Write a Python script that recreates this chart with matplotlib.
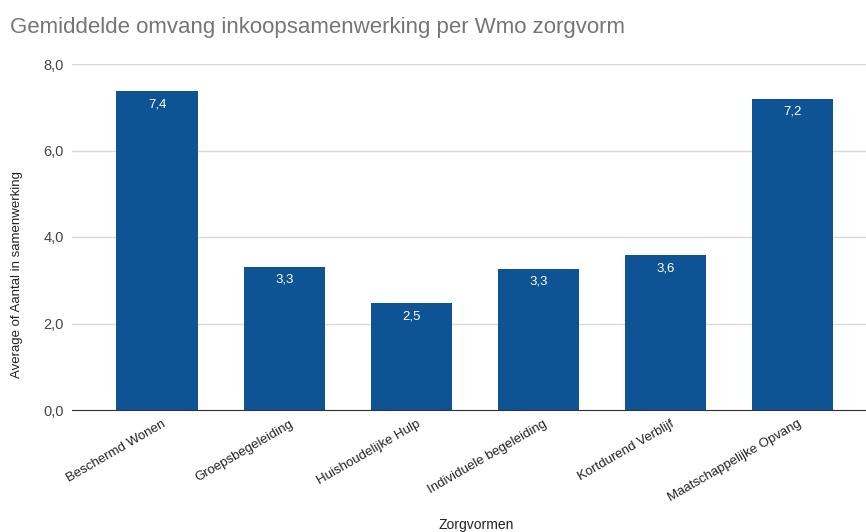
import matplotlib
matplotlib.use("Agg")
import matplotlib.pyplot as plt
from matplotlib.ticker import FuncFormatter
import matplotlib.transforms as mtransforms

categories = ["Beschermd Wonen", "Groepsbegeleiding", "Huishoudelijke Hulp",
              "Individuele begeleiding", "Kortdurend Verblijf", "Maatschappelijke Opvang"]
values = [7.37, 3.31, 2.47, 3.26, 3.58, 7.19]
yticks = [0, 2, 4, 6, 8]

plt.rcParams['font.family'] = ['Liberation Sans', 'DejaVu Sans']

W, H = 866, 532
fig = plt.figure(figsize=(W/100, H/100), dpi=100)
ax = fig.add_axes([72/W, 1-410/H, (866-72)/W, (410-64)/H])

x = list(range(len(categories)))
bars = ax.bar(x, values, width=0.64, color="#0E5394", zorder=3)
ax.set_xlim(-0.67, len(categories) - 1 + 0.58)
ax.set_ylim(0, 8)
ax.set_yticks(yticks)
ax.yaxis.set_major_formatter(FuncFormatter(lambda v, p: f"{v:.1f}".replace(".", ",")))
ax.grid(axis='y', color='#d9d9d9', linewidth=1, zorder=0)
for s in ['top', 'right', 'left']:
    ax.spines[s].set_visible(False)
ax.spines['bottom'].set_color('#333333')
ax.spines['bottom'].set_zorder(4)
ax.tick_params(axis='y', length=0, pad=6, labelsize=10.5, labelcolor='#444444')
ax.tick_params(axis='x', length=0, pad=2, labelsize=9.5, labelcolor='#222222')
ax.set_xticks(x)
ax.set_xticklabels(categories, rotation=30, ha='right', rotation_mode='anchor')
offset = mtransforms.ScaledTranslation(5/100, -5/100, fig.dpi_scale_trans)
for lbl in ax.get_xticklabels():
    lbl.set_transform(lbl.get_transform() + offset)

for b, v in zip(bars, values):
    ax.annotate(f"{v:.1f}".replace(".", ","), (b.get_x() + b.get_width()/2, v),
                xytext=(0, -5), textcoords='offset points', ha='center', va='top',
                color='white', fontsize=9.5, zorder=5)

fig.text(10/W, 1-27/H, "Gemiddelde omvang inkoopsamenwerking per Wmo zorgvorm",
         fontsize=16, color='#757575', ha='left', va='center')
fig.text(17/W, 1-274/H, "Average of Aantal in samenwerking", rotation=90,
         fontsize=9.5, color='#222222', ha='center', va='center')
fig.text(476/W, 1-525/H, "Zorgvormen", fontsize=10, color='#222222',
         ha='center', va='center')

fig.savefig("out.png", dpi=100)
